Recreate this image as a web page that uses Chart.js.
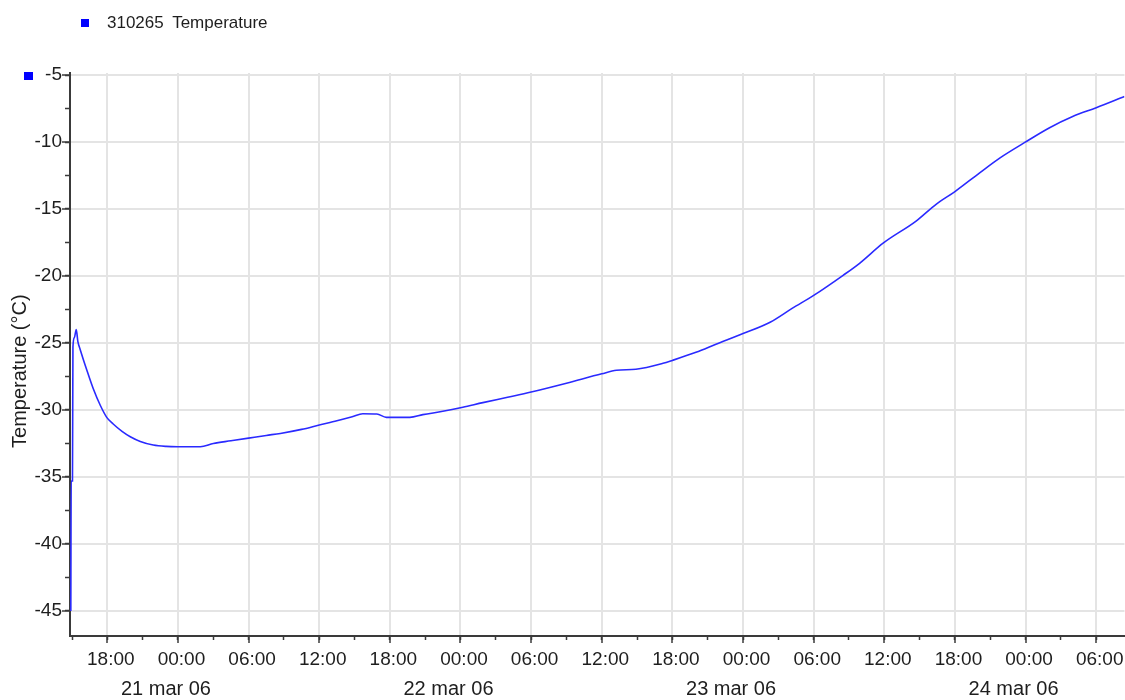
<!DOCTYPE html>
<html>
<head>
<meta charset="utf-8">
<script src="https://cdn.jsdelivr.net/npm/chart.js@4.4.0/dist/chart.umd.min.js"></script>
<style>
  html, body { margin: 0; padding: 0; background: #ffffff; }
  #wrap { position: relative; width: 1125px; height: 700px; overflow: hidden; background: #ffffff; }
  #c { position: absolute; left: 0; top: 0; }
  #legendBox { position: absolute; left: 81px; top: 19px; width: 8px; height: 8px; }
  #legendText { position: absolute; left: 107px; top: 13px; font: 17px 'Liberation Sans', Arial, sans-serif; line-height: 20px; color: #1e1e1e; white-space: pre; word-spacing: 4px; }
  #axisMark { position: absolute; left: 24px; top: 72px; width: 9px; height: 8px; }
</style>
</head>
<body>
<div id="wrap">
  <canvas id="c" width="1125" height="700"></canvas>
  <div id="legendBox"></div>
  <div id="legendText"></div>
  <div id="axisMark"></div>
</div>
<script>
// ---- data (hours since 2006-03-20 00:00) ----
const seriesLabel = '310265 Temperature';
const yTitle = 'Temperature (°C)';
const hours = [14.90, 14.93, 15.04, 15.08, 15.2, 15.36, 15.5, 15.7, 16.25, 16.8, 17.4, 17.95, 18.5, 19.25, 19.95, 20.8, 21.9, 23.0, 24.0, 25.9, 27.0, 28.5, 30.0, 31.5, 32.7, 34.5, 36.0, 37.5, 38.8, 39.7, 40.9, 41.7, 43.7, 44.8, 46.5, 48.2, 49.9, 52.0, 54.0, 57.0, 60.0, 61.25, 62.9, 65.2, 66.0, 68.0, 69.7, 72.0, 74.3, 76.2, 78.0, 80.5, 81.9, 83.9, 86.7, 88.4, 90.0, 92.1, 93.8, 95.9, 98.0, 100.0, 102.0, 104.4];
const temps = [-45.0, -35.3, -35.3, -25.3, -24.6, -24.0, -24.9, -25.5, -27.0, -28.4, -29.65, -30.55, -31.05, -31.6, -32.0, -32.35, -32.62, -32.72, -32.74, -32.74, -32.5, -32.3, -32.1, -31.9, -31.75, -31.45, -31.12, -30.8, -30.5, -30.28, -30.3, -30.55, -30.55, -30.35, -30.1, -29.8, -29.45, -29.05, -28.66, -28.0, -27.3, -27.04, -26.96, -26.52, -26.3, -25.7, -25.1, -24.3, -23.45, -22.4, -21.45, -19.95, -19.05, -17.55, -15.9, -14.65, -13.7, -12.3, -11.2, -10.05, -8.95, -8.1, -7.44, -6.6];

const timeTickHours = [18, 24, 30, 36, 42, 48, 54, 60, 66, 72, 78, 84, 90, 96, 102];
const timeTickLabels = ['18:00', '00:00', '06:00', '12:00', '18:00', '00:00', '06:00', '12:00', '18:00', '00:00', '06:00', '12:00', '18:00', '00:00', '06:00'];
const minorTimeTicks = [15, 18, 21, 24, 27, 30, 33, 36, 39, 42, 45, 48, 51, 54, 57, 60, 63, 66, 69, 72, 75, 78, 81, 84, 87, 90, 93, 96, 99, 102];
const dateTickHours = [24, 48, 72, 96];
const dateTickLabels = ['21 mar 06', '22 mar 06', '23 mar 06', '24 mar 06'];
const yTickValues = [-45, -40, -35, -30, -25, -20, -15, -10, -5];
const yTickLabels = ['-45', '-40', '-35', '-30', '-25', '-20', '-15', '-10', '-5'];
const yMinorTicks = [-45, -42.5, -40, -37.5, -35, -32.5, -30, -27.5, -25, -22.5, -20, -17.5, -15, -12.5, -10, -7.5, -5];

const xMin = 14.83, xMax = 104.4;
const yMin = -46.87, yMax = -4.85;

// ---- styles ----
const lineColor = '#2a2aff';
const markColor = '#0000ff';
const gridColor = '#e4e4e4';
const axisColor = '#3a3a3a';
const textColor = '#1e1e1e';
const fam = "'Liberation Sans', Arial, sans-serif";

document.getElementById('legendBox').style.background = markColor;
document.getElementById('axisMark').style.background = markColor;
document.getElementById('legendText').textContent = seriesLabel;

const setTicks = arr => s => { s.ticks = arr.map(v => ({ value: v })); };

new Chart(document.getElementById('c').getContext('2d'), {
  type: 'line',
  data: {
    datasets: [{
      label: seriesLabel,
      data: hours.map((h, i) => ({ x: h, y: temps[i] })),
      borderColor: lineColor,
      backgroundColor: lineColor,
      borderWidth: 1.6,
      pointRadius: 0,
      fill: false,
      cubicInterpolationMode: 'monotone',
      xAxisID: 'x',
      yAxisID: 'y'
    }]
  },
  options: {
    responsive: false,
    animation: false,
    layout: { padding: { top: 73, left: 0, right: 0, bottom: 0 } },
    plugins: { legend: { display: false }, tooltip: { enabled: false } },
    scales: {
      x: {
        type: 'linear', position: 'bottom', min: xMin, max: xMax, weight: 0,
        afterBuildTicks: setTicks(timeTickHours),
        afterFit: s => { s.height = 34; },
        grid: { color: gridColor, lineWidth: 2, tickLength: 7, tickColor: axisColor, tickWidth: 1.5 },
        border: { display: true, color: axisColor, width: 2 },
        ticks: { autoSkip: false, maxRotation: 0, minRotation: 0, padding: 5, labelOffset: 3.5, color: textColor,
                 font: { family: fam, size: 19 }, callback: (v, i) => timeTickLabels[i] }
      },
      xMinor: {
        type: 'linear', position: 'bottom', min: xMin, max: xMax, weight: -1,
        afterBuildTicks: setTicks(minorTimeTicks),
        afterFit: s => { s.height = 0; },
        grid: { drawOnChartArea: false, color: axisColor, tickLength: 4, tickWidth: 1.5 },
        border: { display: false },
        ticks: { display: false }
      },
      xDate: {
        type: 'linear', position: 'bottom', min: xMin, max: xMax, weight: 1,
        afterBuildTicks: setTicks(dateTickHours),
        afterFit: s => { s.height = 30; },
        grid: { display: false, drawTicks: false, drawOnChartArea: false },
        border: { display: false },
        ticks: { autoSkip: false, maxRotation: 0, minRotation: 0, padding: 7.5, labelOffset: -12, color: textColor,
                 font: { family: fam, size: 20 }, callback: (v, i) => dateTickLabels[i] }
      },
      y: {
        type: 'linear', position: 'left', min: yMin, max: yMax, weight: 0,
        afterBuildTicks: setTicks(yTickValues),
        afterFit: s => { s.width = 70; },
        grid: { color: gridColor, lineWidth: 2, tickLength: 8, tickColor: axisColor, tickWidth: 1.5 },
        border: { display: true, color: axisColor, width: 2 },
        ticks: { autoSkip: false, padding: 0, color: textColor, font: { family: fam, size: 19 },
                 callback: (v, i) => yTickLabels[i] },
        title: { display: true, text: yTitle + '      ', color: textColor, font: { family: fam, size: 20 },
                 padding: { top: 8, bottom: 0 } }
      },
      yMinor: {
        type: 'linear', position: 'left', min: yMin, max: yMax, weight: -1,
        afterBuildTicks: setTicks(yMinorTicks),
        afterFit: s => { s.width = 0; },
        grid: { drawOnChartArea: false, color: axisColor, tickLength: 5, tickWidth: 1.5 },
        border: { display: false },
        ticks: { display: false }
      }
    }
  }
});
</script>
</body>
</html>
